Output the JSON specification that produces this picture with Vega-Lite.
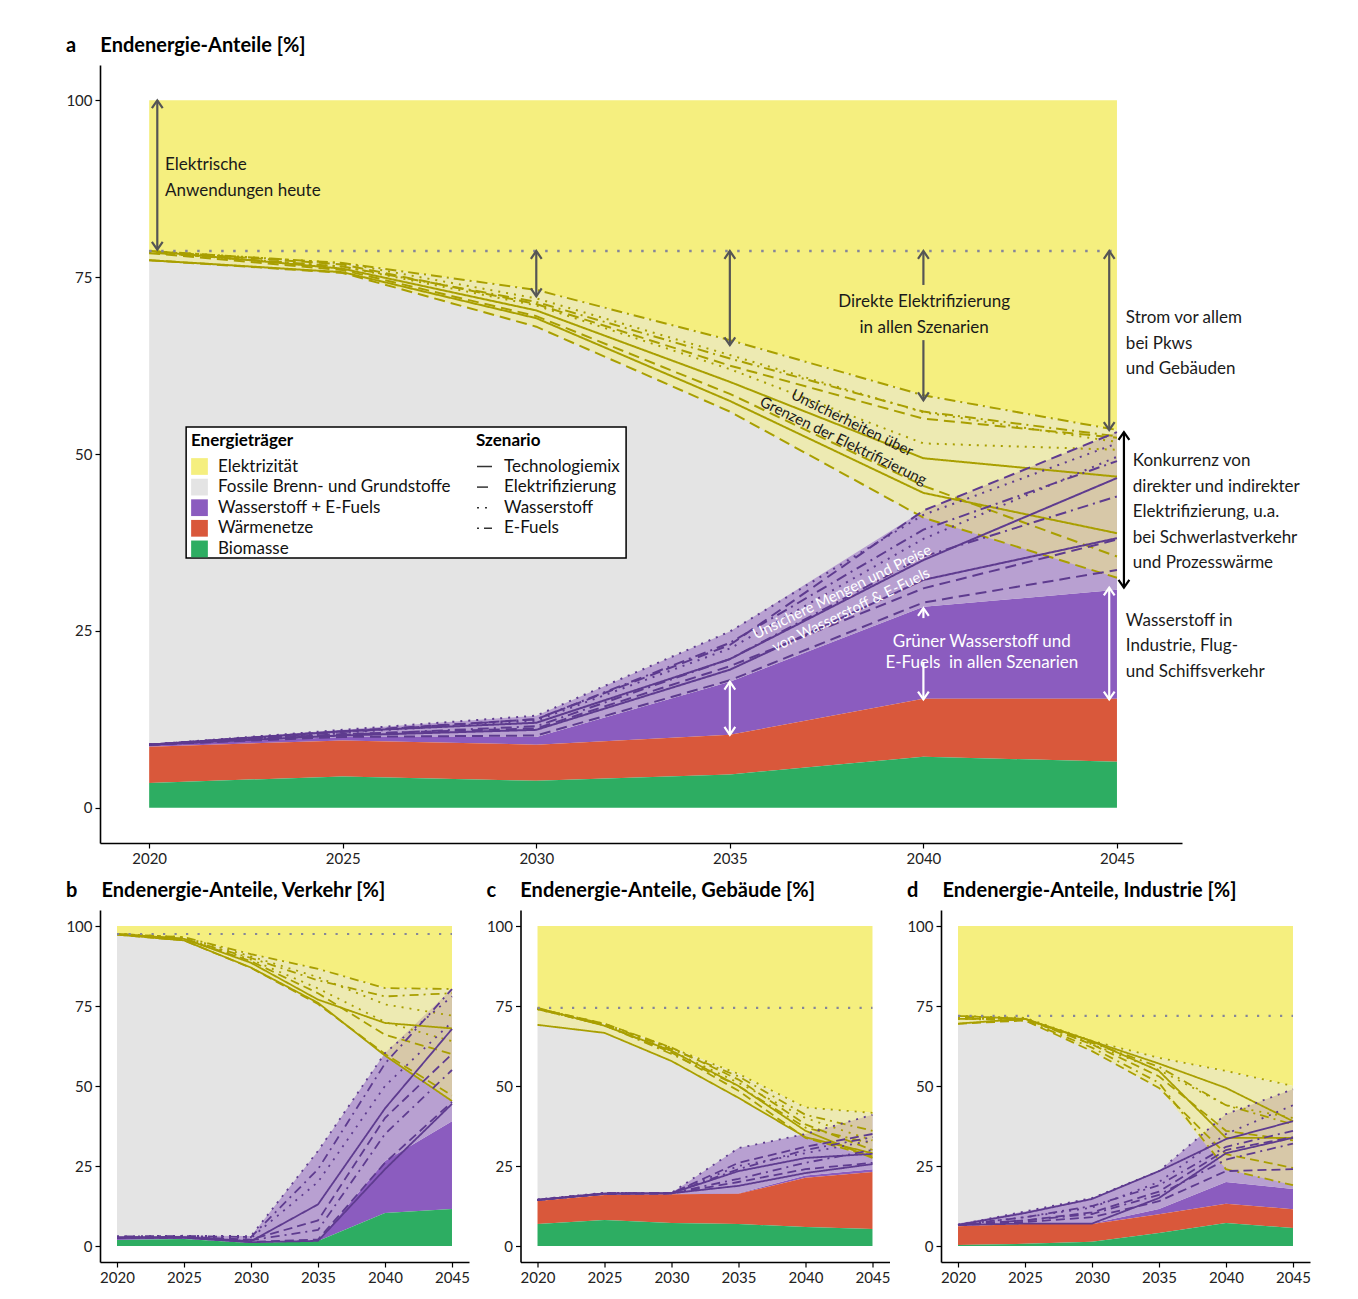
{
"$schema":"https://vega.github.io/schema/vega-lite/v6.json",
"background":"#ffffff",
"padding":{"left":65,"top":36,"right":10,"bottom":10},
"spacing":15,
"datasets":{
"sa":[{"t":2020,"u":100,"z":0,"b":3.5,"w":8.6,"h":8.9,"hx":9.0,"el":77.4,"ex":78.7},{"t":2025,"u":100,"z":0,"b":4.4,"w":9.5,"h":10.0,"hx":11.0,"el":75.6,"ex":77.0},{"t":2030,"u":100,"z":0,"b":3.8,"w":8.9,"h":10.0,"hx":13.0,"el":68.0,"ex":73.2},{"t":2035,"u":100,"z":0,"b":4.7,"w":10.3,"h":17.8,"hx":24.9,"el":56.0,"ex":66.1},{"t":2040,"u":100,"z":0,"b":7.2,"w":15.4,"h":28.4,"hx":42.0,"el":41.0,"ex":58.3},{"t":2045,"u":100,"z":0,"b":6.5,"w":15.4,"h":30.8,"hx":53.1,"el":32.5,"ex":53.4}],
"sb":[{"t":2020,"u":100,"z":0,"b":1.9,"w":1.9,"h":2.5,"hx":3.0,"el":97.3,"ex":97.5},{"t":2025,"u":100,"z":0,"b":2.2,"w":2.2,"h":2.6,"hx":3.2,"el":95.5,"ex":96.5},{"t":2030,"u":100,"z":0,"b":0.9,"w":0.9,"h":1.4,"hx":3.1,"el":86.9,"ex":91.2},{"t":2035,"u":100,"z":0,"b":1.6,"w":1.6,"h":1.6,"hx":29.7,"el":75.6,"ex":86.6},{"t":2040,"u":100,"z":0,"b":10.3,"w":10.3,"h":26.6,"hx":60.3,"el":59.5,"ex":80.6},{"t":2045,"u":100,"z":0,"b":11.6,"w":11.6,"h":39.0,"hx":80.3,"el":45.3,"ex":80.3}],
"sc":[{"t":2020,"u":100,"z":0,"b":6.9,"w":14.1,"h":14.4,"hx":14.6,"el":69.1,"ex":74.4},{"t":2025,"u":100,"z":0,"b":8.1,"w":15.9,"h":16.2,"hx":16.6,"el":66.6,"ex":69.5},{"t":2030,"u":100,"z":0,"b":7.2,"w":16.2,"h":16.4,"hx":16.6,"el":57.8,"ex":62.0},{"t":2035,"u":100,"z":0,"b":6.9,"w":16.3,"h":16.5,"hx":30.6,"el":46.3,"ex":53.8},{"t":2040,"u":100,"z":0,"b":5.9,"w":21.3,"h":22.0,"hx":35.0,"el":33.8,"ex":43.3},{"t":2045,"u":100,"z":0,"b":5.3,"w":23.1,"h":24.0,"hx":41.0,"el":27.5,"ex":41.6}],
"sd":[{"t":2020,"u":100,"z":0,"b":0.3,"w":6.2,"h":6.6,"hx":7.0,"el":69.4,"ex":71.9},{"t":2025,"u":100,"z":0,"b":0.7,"w":6.9,"h":6.9,"hx":10.8,"el":70.5,"ex":71.3},{"t":2030,"u":100,"z":0,"b":1.3,"w":6.9,"h":7.0,"hx":15.0,"el":60.9,"ex":64.1},{"t":2035,"u":100,"z":0,"b":4.1,"w":9.9,"h":11.6,"hx":23.4,"el":49.4,"ex":58.8},{"t":2040,"u":100,"z":0,"b":7.2,"w":13.2,"h":20.0,"hx":41.2,"el":24.0,"ex":54.7},{"t":2045,"u":100,"z":0,"b":5.6,"w":11.5,"h":17.8,"hx":49.0,"el":19.0,"ex":50.0}],
"la":[
{"k":"e","s":"T","m":1,"t":2020,"v":78.7},{"k":"e","s":"T","m":1,"t":2025,"v":76.2},{"k":"e","s":"T","m":1,"t":2030,"v":70.3},{"k":"e","s":"T","m":1,"t":2035,"v":60.2},{"k":"e","s":"T","m":1,"t":2040,"v":49.4},{"k":"e","s":"T","m":1,"t":2045,"v":46.8},
{"k":"e","s":"T","m":2,"t":2020,"v":77.4},{"k":"e","s":"T","m":2,"t":2025,"v":75.7},{"k":"e","s":"T","m":2,"t":2030,"v":69.2},{"k":"e","s":"T","m":2,"t":2035,"v":57.5},{"k":"e","s":"T","m":2,"t":2040,"v":44.5},{"k":"e","s":"T","m":2,"t":2045,"v":38.8},
{"k":"e","s":"E","m":1,"t":2020,"v":77.4},{"k":"e","s":"E","m":1,"t":2025,"v":75.6},{"k":"e","s":"E","m":1,"t":2030,"v":68.0},{"k":"e","s":"E","m":1,"t":2035,"v":56.0},{"k":"e","s":"E","m":1,"t":2040,"v":41.0},{"k":"e","s":"E","m":1,"t":2045,"v":32.5},
{"k":"e","s":"E","m":2,"t":2020,"v":78.4},{"k":"e","s":"E","m":2,"t":2025,"v":76.0},{"k":"e","s":"E","m":2,"t":2030,"v":69.5},{"k":"e","s":"E","m":2,"t":2035,"v":58.5},{"k":"e","s":"E","m":2,"t":2040,"v":45.5},{"k":"e","s":"E","m":2,"t":2045,"v":35.5},
{"k":"e","s":"E","m":3,"t":2020,"v":78.7},{"k":"e","s":"E","m":3,"t":2025,"v":76.8},{"k":"e","s":"E","m":3,"t":2030,"v":71.2},{"k":"e","s":"E","m":3,"t":2035,"v":62.5},{"k":"e","s":"E","m":3,"t":2040,"v":55.0},{"k":"e","s":"E","m":3,"t":2045,"v":52.3},
{"k":"e","s":"W","m":1,"t":2020,"v":78.7},{"k":"e","s":"W","m":1,"t":2025,"v":77.0},{"k":"e","s":"W","m":1,"t":2030,"v":72.0},{"k":"e","s":"W","m":1,"t":2035,"v":64.0},{"k":"e","s":"W","m":1,"t":2040,"v":55.9},{"k":"e","s":"W","m":1,"t":2045,"v":51.7},
{"k":"e","s":"W","m":2,"t":2020,"v":78.5},{"k":"e","s":"W","m":2,"t":2025,"v":76.5},{"k":"e","s":"W","m":2,"t":2030,"v":71.0},{"k":"e","s":"W","m":2,"t":2035,"v":62.0},{"k":"e","s":"W","m":2,"t":2040,"v":51.5},{"k":"e","s":"W","m":2,"t":2045,"v":50.6},
{"k":"e","s":"F","m":1,"t":2020,"v":78.7},{"k":"e","s":"F","m":1,"t":2025,"v":77.0},{"k":"e","s":"F","m":1,"t":2030,"v":73.2},{"k":"e","s":"F","m":1,"t":2035,"v":66.1},{"k":"e","s":"F","m":1,"t":2040,"v":58.3},{"k":"e","s":"F","m":1,"t":2045,"v":53.4},
{"k":"e","s":"F","m":2,"t":2020,"v":78.5},{"k":"e","s":"F","m":2,"t":2025,"v":76.5},{"k":"e","s":"F","m":2,"t":2030,"v":71.5},{"k":"e","s":"F","m":2,"t":2035,"v":63.5},{"k":"e","s":"F","m":2,"t":2040,"v":56.0},{"k":"e","s":"F","m":2,"t":2045,"v":52.5},
{"k":"h","s":"T","m":1,"t":2020,"v":8.9},{"k":"h","s":"T","m":1,"t":2025,"v":10.8},{"k":"h","s":"T","m":1,"t":2030,"v":12.0},{"k":"h","s":"T","m":1,"t":2035,"v":21.0},{"k":"h","s":"T","m":1,"t":2040,"v":35.0},{"k":"h","s":"T","m":1,"t":2045,"v":46.6},
{"k":"h","s":"T","m":2,"t":2020,"v":8.9},{"k":"h","s":"T","m":2,"t":2025,"v":10.2},{"k":"h","s":"T","m":2,"t":2030,"v":11.0},{"k":"h","s":"T","m":2,"t":2035,"v":19.5},{"k":"h","s":"T","m":2,"t":2040,"v":32.2},{"k":"h","s":"T","m":2,"t":2045,"v":38.1},
{"k":"h","s":"E","m":1,"t":2020,"v":8.9},{"k":"h","s":"E","m":1,"t":2025,"v":10.0},{"k":"h","s":"E","m":1,"t":2030,"v":10.2},{"k":"h","s":"E","m":1,"t":2035,"v":18.0},{"k":"h","s":"E","m":1,"t":2040,"v":29.0},{"k":"h","s":"E","m":1,"t":2045,"v":33.6},
{"k":"h","s":"E","m":2,"t":2020,"v":8.9},{"k":"h","s":"E","m":2,"t":2025,"v":10.4},{"k":"h","s":"E","m":2,"t":2030,"v":11.2},{"k":"h","s":"E","m":2,"t":2035,"v":20.0},{"k":"h","s":"E","m":2,"t":2040,"v":31.0},{"k":"h","s":"E","m":2,"t":2045,"v":37.9},
{"k":"h","s":"E","m":3,"t":2020,"v":8.9},{"k":"h","s":"E","m":3,"t":2025,"v":10.8},{"k":"h","s":"E","m":3,"t":2030,"v":12.5},{"k":"h","s":"E","m":3,"t":2035,"v":23.0},{"k":"h","s":"E","m":3,"t":2040,"v":42.0},{"k":"h","s":"E","m":3,"t":2045,"v":53.1},
{"k":"h","s":"W","m":1,"t":2020,"v":8.9},{"k":"h","s":"W","m":1,"t":2025,"v":11.0},{"k":"h","s":"W","m":1,"t":2030,"v":13.0},{"k":"h","s":"W","m":1,"t":2035,"v":24.9},{"k":"h","s":"W","m":1,"t":2040,"v":41.4},{"k":"h","s":"W","m":1,"t":2045,"v":51.5},
{"k":"h","s":"W","m":2,"t":2020,"v":8.9},{"k":"h","s":"W","m":2,"t":2025,"v":10.6},{"k":"h","s":"W","m":2,"t":2030,"v":12.3},{"k":"h","s":"W","m":2,"t":2035,"v":22.5},{"k":"h","s":"W","m":2,"t":2040,"v":38.0},{"k":"h","s":"W","m":2,"t":2045,"v":49.6},
{"k":"h","s":"F","m":1,"t":2020,"v":8.9},{"k":"h","s":"F","m":1,"t":2025,"v":10.7},{"k":"h","s":"F","m":1,"t":2030,"v":12.5},{"k":"h","s":"F","m":1,"t":2035,"v":23.3},{"k":"h","s":"F","m":1,"t":2040,"v":39.3},{"k":"h","s":"F","m":1,"t":2045,"v":49.0},
{"k":"h","s":"F","m":2,"t":2020,"v":8.9},{"k":"h","s":"F","m":2,"t":2025,"v":10.3},{"k":"h","s":"F","m":2,"t":2030,"v":11.5},{"k":"h","s":"F","m":2,"t":2035,"v":21.0},{"k":"h","s":"F","m":2,"t":2040,"v":35.5},{"k":"h","s":"F","m":2,"t":2045,"v":44.0}
],
"lb":[
{"k":"e","s":"T","m":1,"t":2020,"v":97.5},{"k":"e","s":"T","m":1,"t":2025,"v":96.0},{"k":"e","s":"T","m":1,"t":2030,"v":88.5},{"k":"e","s":"T","m":1,"t":2035,"v":77.0},{"k":"e","s":"T","m":1,"t":2040,"v":69.7},{"k":"e","s":"T","m":1,"t":2045,"v":68.0},
{"k":"e","s":"T","m":2,"t":2020,"v":97.3},{"k":"e","s":"T","m":2,"t":2025,"v":95.5},{"k":"e","s":"T","m":2,"t":2030,"v":87.0},{"k":"e","s":"T","m":2,"t":2035,"v":76.0},{"k":"e","s":"T","m":2,"t":2040,"v":59.5},{"k":"e","s":"T","m":2,"t":2045,"v":45.3},
{"k":"e","s":"E","m":1,"t":2020,"v":97.3},{"k":"e","s":"E","m":1,"t":2025,"v":95.5},{"k":"e","s":"E","m":1,"t":2030,"v":86.9},{"k":"e","s":"E","m":1,"t":2035,"v":75.6},{"k":"e","s":"E","m":1,"t":2040,"v":60.0},{"k":"e","s":"E","m":1,"t":2045,"v":47.0},
{"k":"e","s":"E","m":2,"t":2020,"v":97.5},{"k":"e","s":"E","m":2,"t":2025,"v":96.0},{"k":"e","s":"E","m":2,"t":2030,"v":89.0},{"k":"e","s":"E","m":2,"t":2035,"v":79.0},{"k":"e","s":"E","m":2,"t":2040,"v":66.0},{"k":"e","s":"E","m":2,"t":2045,"v":60.0},
{"k":"e","s":"W","m":1,"t":2020,"v":97.5},{"k":"e","s":"W","m":1,"t":2025,"v":96.5},{"k":"e","s":"W","m":1,"t":2030,"v":90.5},{"k":"e","s":"W","m":1,"t":2035,"v":84.0},{"k":"e","s":"W","m":1,"t":2040,"v":75.5},{"k":"e","s":"W","m":1,"t":2045,"v":72.0},
{"k":"e","s":"W","m":2,"t":2020,"v":97.5},{"k":"e","s":"W","m":2,"t":2025,"v":96.0},{"k":"e","s":"W","m":2,"t":2030,"v":89.5},{"k":"e","s":"W","m":2,"t":2035,"v":80.5},{"k":"e","s":"W","m":2,"t":2040,"v":70.0},{"k":"e","s":"W","m":2,"t":2045,"v":64.0},
{"k":"e","s":"F","m":1,"t":2020,"v":97.5},{"k":"e","s":"F","m":1,"t":2025,"v":96.5},{"k":"e","s":"F","m":1,"t":2030,"v":91.2},{"k":"e","s":"F","m":1,"t":2035,"v":86.6},{"k":"e","s":"F","m":1,"t":2040,"v":80.6},{"k":"e","s":"F","m":1,"t":2045,"v":80.3},
{"k":"e","s":"F","m":2,"t":2020,"v":97.5},{"k":"e","s":"F","m":2,"t":2025,"v":96.0},{"k":"e","s":"F","m":2,"t":2030,"v":90.0},{"k":"e","s":"F","m":2,"t":2035,"v":83.0},{"k":"e","s":"F","m":2,"t":2040,"v":78.0},{"k":"e","s":"F","m":2,"t":2045,"v":79.0},
{"k":"h","s":"T","m":1,"t":2020,"v":2.7},{"k":"h","s":"T","m":1,"t":2025,"v":2.8},{"k":"h","s":"T","m":1,"t":2030,"v":1.5},{"k":"h","s":"T","m":1,"t":2035,"v":13.0},{"k":"h","s":"T","m":1,"t":2040,"v":43.0},{"k":"h","s":"T","m":1,"t":2045,"v":67.8},
{"k":"h","s":"T","m":2,"t":2020,"v":2.5},{"k":"h","s":"T","m":2,"t":2025,"v":2.6},{"k":"h","s":"T","m":2,"t":2030,"v":1.2},{"k":"h","s":"T","m":2,"t":2035,"v":1.6},{"k":"h","s":"T","m":2,"t":2040,"v":24.0},{"k":"h","s":"T","m":2,"t":2045,"v":44.4},
{"k":"h","s":"E","m":1,"t":2020,"v":2.5},{"k":"h","s":"E","m":1,"t":2025,"v":2.6},{"k":"h","s":"E","m":1,"t":2030,"v":1.3},{"k":"h","s":"E","m":1,"t":2035,"v":2.0},{"k":"h","s":"E","m":1,"t":2040,"v":26.0},{"k":"h","s":"E","m":1,"t":2045,"v":45.0},
{"k":"h","s":"E","m":2,"t":2020,"v":2.7},{"k":"h","s":"E","m":2,"t":2025,"v":2.8},{"k":"h","s":"E","m":2,"t":2030,"v":2.0},{"k":"h","s":"E","m":2,"t":2035,"v":8.0},{"k":"h","s":"E","m":2,"t":2040,"v":40.0},{"k":"h","s":"E","m":2,"t":2045,"v":60.0},
{"k":"h","s":"W","m":1,"t":2020,"v":3.0},{"k":"h","s":"W","m":1,"t":2025,"v":3.2},{"k":"h","s":"W","m":1,"t":2030,"v":3.1},{"k":"h","s":"W","m":1,"t":2035,"v":29.7},{"k":"h","s":"W","m":1,"t":2040,"v":60.3},{"k":"h","s":"W","m":1,"t":2045,"v":78.0},
{"k":"h","s":"W","m":2,"t":2020,"v":2.7},{"k":"h","s":"W","m":2,"t":2025,"v":3.0},{"k":"h","s":"W","m":2,"t":2030,"v":2.5},{"k":"h","s":"W","m":2,"t":2035,"v":20.0},{"k":"h","s":"W","m":2,"t":2040,"v":50.0},{"k":"h","s":"W","m":2,"t":2045,"v":70.0},
{"k":"h","s":"F","m":1,"t":2020,"v":3.0},{"k":"h","s":"F","m":1,"t":2025,"v":3.1},{"k":"h","s":"F","m":1,"t":2030,"v":2.8},{"k":"h","s":"F","m":1,"t":2035,"v":24.0},{"k":"h","s":"F","m":1,"t":2040,"v":57.0},{"k":"h","s":"F","m":1,"t":2045,"v":80.3},
{"k":"h","s":"F","m":2,"t":2020,"v":2.6},{"k":"h","s":"F","m":2,"t":2025,"v":2.8},{"k":"h","s":"F","m":2,"t":2030,"v":1.8},{"k":"h","s":"F","m":2,"t":2035,"v":5.0},{"k":"h","s":"F","m":2,"t":2040,"v":35.0},{"k":"h","s":"F","m":2,"t":2045,"v":55.0}
],
"lc":[
{"k":"e","s":"T","m":1,"t":2020,"v":74.4},{"k":"e","s":"T","m":1,"t":2025,"v":68.8},{"k":"e","s":"T","m":1,"t":2030,"v":61.0},{"k":"e","s":"T","m":1,"t":2035,"v":50.0},{"k":"e","s":"T","m":1,"t":2040,"v":36.0},{"k":"e","s":"T","m":1,"t":2045,"v":27.5},
{"k":"e","s":"T","m":2,"t":2020,"v":69.1},{"k":"e","s":"T","m":2,"t":2025,"v":66.6},{"k":"e","s":"T","m":2,"t":2030,"v":57.8},{"k":"e","s":"T","m":2,"t":2035,"v":46.3},{"k":"e","s":"T","m":2,"t":2040,"v":34.0},{"k":"e","s":"T","m":2,"t":2045,"v":29.0},
{"k":"e","s":"E","m":1,"t":2020,"v":74.0},{"k":"e","s":"E","m":1,"t":2025,"v":69.0},{"k":"e","s":"E","m":1,"t":2030,"v":60.5},{"k":"e","s":"E","m":1,"t":2035,"v":48.5},{"k":"e","s":"E","m":1,"t":2040,"v":33.8},{"k":"e","s":"E","m":1,"t":2045,"v":28.0},
{"k":"e","s":"E","m":2,"t":2020,"v":74.2},{"k":"e","s":"E","m":2,"t":2025,"v":69.5},{"k":"e","s":"E","m":2,"t":2030,"v":62.0},{"k":"e","s":"E","m":2,"t":2035,"v":52.0},{"k":"e","s":"E","m":2,"t":2040,"v":38.0},{"k":"e","s":"E","m":2,"t":2045,"v":30.0},
{"k":"e","s":"W","m":1,"t":2020,"v":74.2},{"k":"e","s":"W","m":1,"t":2025,"v":69.4},{"k":"e","s":"W","m":1,"t":2030,"v":61.9},{"k":"e","s":"W","m":1,"t":2035,"v":53.8},{"k":"e","s":"W","m":1,"t":2040,"v":43.3},{"k":"e","s":"W","m":1,"t":2045,"v":41.6},
{"k":"e","s":"W","m":2,"t":2020,"v":74.0},{"k":"e","s":"W","m":2,"t":2025,"v":69.0},{"k":"e","s":"W","m":2,"t":2030,"v":61.0},{"k":"e","s":"W","m":2,"t":2035,"v":51.0},{"k":"e","s":"W","m":2,"t":2040,"v":40.0},{"k":"e","s":"W","m":2,"t":2045,"v":33.0},
{"k":"e","s":"F","m":1,"t":2020,"v":74.2},{"k":"e","s":"F","m":1,"t":2025,"v":69.4},{"k":"e","s":"F","m":1,"t":2030,"v":61.5},{"k":"e","s":"F","m":1,"t":2035,"v":53.0},{"k":"e","s":"F","m":1,"t":2040,"v":41.0},{"k":"e","s":"F","m":1,"t":2045,"v":36.0},
{"k":"e","s":"F","m":2,"t":2020,"v":74.0},{"k":"e","s":"F","m":2,"t":2025,"v":69.0},{"k":"e","s":"F","m":2,"t":2030,"v":60.0},{"k":"e","s":"F","m":2,"t":2035,"v":50.0},{"k":"e","s":"F","m":2,"t":2040,"v":37.0},{"k":"e","s":"F","m":2,"t":2045,"v":32.0},
{"k":"h","s":"T","m":1,"t":2020,"v":14.4},{"k":"h","s":"T","m":1,"t":2025,"v":16.4},{"k":"h","s":"T","m":1,"t":2030,"v":16.5},{"k":"h","s":"T","m":1,"t":2035,"v":23.4},{"k":"h","s":"T","m":1,"t":2040,"v":27.5},{"k":"h","s":"T","m":1,"t":2045,"v":28.8},
{"k":"h","s":"T","m":2,"t":2020,"v":14.4},{"k":"h","s":"T","m":2,"t":2025,"v":16.3},{"k":"h","s":"T","m":2,"t":2030,"v":16.5},{"k":"h","s":"T","m":2,"t":2035,"v":18.8},{"k":"h","s":"T","m":2,"t":2040,"v":22.8},{"k":"h","s":"T","m":2,"t":2045,"v":25.6},
{"k":"h","s":"E","m":1,"t":2020,"v":14.4},{"k":"h","s":"E","m":1,"t":2025,"v":16.3},{"k":"h","s":"E","m":1,"t":2030,"v":16.4},{"k":"h","s":"E","m":1,"t":2035,"v":20.0},{"k":"h","s":"E","m":1,"t":2040,"v":24.0},{"k":"h","s":"E","m":1,"t":2045,"v":26.0},
{"k":"h","s":"E","m":2,"t":2020,"v":14.4},{"k":"h","s":"E","m":2,"t":2025,"v":16.4},{"k":"h","s":"E","m":2,"t":2030,"v":16.5},{"k":"h","s":"E","m":2,"t":2035,"v":26.0},{"k":"h","s":"E","m":2,"t":2040,"v":31.0},{"k":"h","s":"E","m":2,"t":2045,"v":35.0},
{"k":"h","s":"W","m":1,"t":2020,"v":14.6},{"k":"h","s":"W","m":1,"t":2025,"v":16.6},{"k":"h","s":"W","m":1,"t":2030,"v":16.6},{"k":"h","s":"W","m":1,"t":2035,"v":30.6},{"k":"h","s":"W","m":1,"t":2040,"v":35.0},{"k":"h","s":"W","m":1,"t":2045,"v":41.0},
{"k":"h","s":"W","m":2,"t":2020,"v":14.4},{"k":"h","s":"W","m":2,"t":2025,"v":16.5},{"k":"h","s":"W","m":2,"t":2030,"v":16.6},{"k":"h","s":"W","m":2,"t":2035,"v":25.0},{"k":"h","s":"W","m":2,"t":2040,"v":29.0},{"k":"h","s":"W","m":2,"t":2045,"v":33.0},
{"k":"h","s":"F","m":1,"t":2020,"v":14.4},{"k":"h","s":"F","m":1,"t":2025,"v":16.5},{"k":"h","s":"F","m":1,"t":2030,"v":16.5},{"k":"h","s":"F","m":1,"t":2035,"v":24.0},{"k":"h","s":"F","m":1,"t":2040,"v":30.0},{"k":"h","s":"F","m":1,"t":2045,"v":34.0},
{"k":"h","s":"F","m":2,"t":2020,"v":14.4},{"k":"h","s":"F","m":2,"t":2025,"v":16.4},{"k":"h","s":"F","m":2,"t":2030,"v":16.5},{"k":"h","s":"F","m":2,"t":2035,"v":21.0},{"k":"h","s":"F","m":2,"t":2040,"v":26.0},{"k":"h","s":"F","m":2,"t":2045,"v":30.0}
],
"ld":[
{"k":"e","s":"T","m":1,"t":2020,"v":71.9},{"k":"e","s":"T","m":1,"t":2025,"v":71.0},{"k":"e","s":"T","m":1,"t":2030,"v":64.0},{"k":"e","s":"T","m":1,"t":2035,"v":57.0},{"k":"e","s":"T","m":1,"t":2040,"v":49.4},{"k":"e","s":"T","m":1,"t":2045,"v":39.0},
{"k":"e","s":"T","m":2,"t":2020,"v":69.5},{"k":"e","s":"T","m":2,"t":2025,"v":71.0},{"k":"e","s":"T","m":2,"t":2030,"v":64.0},{"k":"e","s":"T","m":2,"t":2035,"v":54.7},{"k":"e","s":"T","m":2,"t":2040,"v":33.8},{"k":"e","s":"T","m":2,"t":2045,"v":33.8},
{"k":"e","s":"E","m":1,"t":2020,"v":69.4},{"k":"e","s":"E","m":1,"t":2025,"v":70.5},{"k":"e","s":"E","m":1,"t":2030,"v":60.9},{"k":"e","s":"E","m":1,"t":2035,"v":49.4},{"k":"e","s":"E","m":1,"t":2040,"v":28.7},{"k":"e","s":"E","m":1,"t":2045,"v":24.4},
{"k":"e","s":"E","m":2,"t":2020,"v":71.0},{"k":"e","s":"E","m":2,"t":2025,"v":71.0},{"k":"e","s":"E","m":2,"t":2030,"v":63.0},{"k":"e","s":"E","m":2,"t":2035,"v":53.0},{"k":"e","s":"E","m":2,"t":2040,"v":36.0},{"k":"e","s":"E","m":2,"t":2045,"v":33.0},
{"k":"e","s":"W","m":1,"t":2020,"v":71.9},{"k":"e","s":"W","m":1,"t":2025,"v":71.3},{"k":"e","s":"W","m":1,"t":2030,"v":64.1},{"k":"e","s":"W","m":1,"t":2035,"v":58.8},{"k":"e","s":"W","m":1,"t":2040,"v":54.7},{"k":"e","s":"W","m":1,"t":2045,"v":50.0},
{"k":"e","s":"W","m":2,"t":2020,"v":71.0},{"k":"e","s":"W","m":2,"t":2025,"v":71.0},{"k":"e","s":"W","m":2,"t":2030,"v":63.0},{"k":"e","s":"W","m":2,"t":2035,"v":55.0},{"k":"e","s":"W","m":2,"t":2040,"v":44.0},{"k":"e","s":"W","m":2,"t":2045,"v":40.0},
{"k":"e","s":"F","m":1,"t":2020,"v":71.5},{"k":"e","s":"F","m":1,"t":2025,"v":71.0},{"k":"e","s":"F","m":1,"t":2030,"v":63.5},{"k":"e","s":"F","m":1,"t":2035,"v":56.0},{"k":"e","s":"F","m":1,"t":2040,"v":44.0},{"k":"e","s":"F","m":1,"t":2045,"v":38.0},
{"k":"e","s":"F","m":2,"t":2020,"v":71.0},{"k":"e","s":"F","m":2,"t":2025,"v":70.5},{"k":"e","s":"F","m":2,"t":2030,"v":62.0},{"k":"e","s":"F","m":2,"t":2035,"v":51.0},{"k":"e","s":"F","m":2,"t":2040,"v":24.0},{"k":"e","s":"F","m":2,"t":2045,"v":19.0},
{"k":"h","s":"T","m":1,"t":2020,"v":6.6},{"k":"h","s":"T","m":1,"t":2025,"v":10.3},{"k":"h","s":"T","m":1,"t":2030,"v":14.7},{"k":"h","s":"T","m":1,"t":2035,"v":23.4},{"k":"h","s":"T","m":1,"t":2040,"v":33.4},{"k":"h","s":"T","m":1,"t":2045,"v":39.0},
{"k":"h","s":"T","m":2,"t":2020,"v":6.6},{"k":"h","s":"T","m":2,"t":2025,"v":7.0},{"k":"h","s":"T","m":2,"t":2030,"v":7.0},{"k":"h","s":"T","m":2,"t":2035,"v":15.0},{"k":"h","s":"T","m":2,"t":2040,"v":29.0},{"k":"h","s":"T","m":2,"t":2045,"v":33.8},
{"k":"h","s":"E","m":1,"t":2020,"v":6.6},{"k":"h","s":"E","m":1,"t":2025,"v":7.5},{"k":"h","s":"E","m":1,"t":2030,"v":9.0},{"k":"h","s":"E","m":1,"t":2035,"v":14.0},{"k":"h","s":"E","m":1,"t":2040,"v":23.4},{"k":"h","s":"E","m":1,"t":2045,"v":24.0},
{"k":"h","s":"E","m":2,"t":2020,"v":6.6},{"k":"h","s":"E","m":2,"t":2025,"v":8.0},{"k":"h","s":"E","m":2,"t":2030,"v":10.5},{"k":"h","s":"E","m":2,"t":2035,"v":17.0},{"k":"h","s":"E","m":2,"t":2040,"v":30.0},{"k":"h","s":"E","m":2,"t":2045,"v":34.0},
{"k":"h","s":"W","m":1,"t":2020,"v":6.6},{"k":"h","s":"W","m":1,"t":2025,"v":10.8},{"k":"h","s":"W","m":1,"t":2030,"v":15.0},{"k":"h","s":"W","m":1,"t":2035,"v":23.4},{"k":"h","s":"W","m":1,"t":2040,"v":41.2},{"k":"h","s":"W","m":1,"t":2045,"v":49.0},
{"k":"h","s":"W","m":2,"t":2020,"v":6.6},{"k":"h","s":"W","m":2,"t":2025,"v":9.0},{"k":"h","s":"W","m":2,"t":2030,"v":12.0},{"k":"h","s":"W","m":2,"t":2035,"v":20.0},{"k":"h","s":"W","m":2,"t":2040,"v":35.0},{"k":"h","s":"W","m":2,"t":2045,"v":44.0},
{"k":"h","s":"F","m":1,"t":2020,"v":6.6},{"k":"h","s":"F","m":1,"t":2025,"v":9.0},{"k":"h","s":"F","m":1,"t":2030,"v":12.5},{"k":"h","s":"F","m":1,"t":2035,"v":19.0},{"k":"h","s":"F","m":1,"t":2040,"v":31.0},{"k":"h","s":"F","m":1,"t":2045,"v":36.0},
{"k":"h","s":"F","m":2,"t":2020,"v":6.6},{"k":"h","s":"F","m":2,"t":2025,"v":8.0},{"k":"h","s":"F","m":2,"t":2030,"v":10.0},{"k":"h","s":"F","m":2,"t":2035,"v":16.0},{"k":"h","s":"F","m":2,"t":2040,"v":27.0},{"k":"h","s":"F","m":2,"t":2045,"v":32.0}
]
},
"vconcat":[
{
"width":1082,"height":778,
"title":{"text":"a\u00a0\u00a0\u00a0\u00a0\u00a0Endenergie-Anteile [%]"},
"encoding":{"x":{"field":"t","type":"quantitative","title":null,"scale":{"domain":[2018.73,2046.68],"nice":false,"zero":false},"axis":{"values":[2020,2025,2030,2035,2040,2045],"format":"d"}}},
"layer":[
{"data":{"name":"sa"},"mark":{"type":"area"},"encoding":{"y":{"field":"u","type":"quantitative","title":null,"scale":{"domain":[-5,105],"nice":false,"zero":false},"axis":{"values":[0,25,50,75,100],"title":null}},"y2":{"field":"ex"},"fill":{"datum":"Elektrizität","type":"nominal","scale":{"domain":["Elektrizität","Fossile Brenn- und Grundstoffe","Wasserstoff + E-Fuels","Wärmenetze","Biomasse"],"range":["#f5ef7f","#e4e4e4","#8b5cbf","#d9583b","#2dad62"]},"legend":{"title":"Energieträger","orient":"none","legendX":91,"legendY":368,"symbolType":"square","symbolSize":280,"symbolStrokeWidth":0,"labelOffset":10}}}},
{"data":{"name":"sa"},"mark":{"type":"area"},"encoding":{"y":{"field":"ex","type":"quantitative","title":null},"y2":{"field":"h"},"fill":{"datum":"Fossile Brenn- und Grundstoffe","type":"nominal"}}},
{"data":{"name":"sa"},"mark":{"type":"area"},"encoding":{"y":{"field":"h","type":"quantitative","title":null},"y2":{"field":"w"},"fill":{"datum":"Wasserstoff + E-Fuels","type":"nominal"}}},
{"data":{"name":"sa"},"mark":{"type":"area"},"encoding":{"y":{"field":"w","type":"quantitative","title":null},"y2":{"field":"b"},"fill":{"datum":"Wärmenetze","type":"nominal"}}},
{"data":{"name":"sa"},"mark":{"type":"area"},"encoding":{"y":{"field":"b","type":"quantitative","title":null},"y2":{"field":"z"},"fill":{"datum":"Biomasse","type":"nominal"}}},
{"data":{"name":"sa"},"mark":{"type":"area","fill":"#b8a0d1"},"encoding":{"y":{"field":"hx","type":"quantitative","title":null},"y2":{"field":"h"}}},
{"data":{"name":"sa"},"mark":{"type":"area","fill":"#f5ef7f","fillOpacity":0.5},"encoding":{"y":{"field":"ex","type":"quantitative","title":null},"y2":{"field":"el"}}},
{"data":{"name":"la"},"mark":{"type":"line","strokeWidth":2,"strokeCap":"butt"},"encoding":{"y":{"field":"v","type":"quantitative","title":null},"stroke":{"field":"k","type":"nominal","scale":{"domain":["e","h"],"range":["#a99f00","#5e3b8f"]},"legend":null},"strokeDash":{"field":"s","type":"nominal","scale":{"domain":["T","E","W","F"],"range":[[1,0],[11,6],[2,6],[2,5,11,5]]},"legend":{"title":"Szenario","orient":"none","legendX":376,"legendY":368,"symbolType":"stroke","symbolSize":225,"symbolStrokeColor":"#333333","symbolStrokeWidth":1.5,"labelOffset":11,"labelExpr":"datum.label == 'T' ? 'Technologiemix' : datum.label == 'E' ? 'Elektrifizierung' : datum.label == 'W' ? 'Wasserstoff' : 'E-Fuels'"}},"detail":{"field":"m","type":"nominal"}}},
{"data":{"values":[{"t":2020,"t2":2045,"v":78.7}]},"mark":{"type":"rule","color":"#85859a","strokeWidth":2.5,"strokeDash":[2.5,9.5]},"encoding":{"x":{"field":"t","type":"quantitative"},"x2":{"field":"t2"},"y":{"field":"v","type":"quantitative","title":null}}},
{"data":{"values":[{"t":2020.955,"t2":2032.32,"v":53.8,"v2":35.3}]},"mark":{"type":"rect","fill":"#ffffff","stroke":"#000000","strokeWidth":1.5},"encoding":{"x":{"field":"t","type":"quantitative"},"x2":{"field":"t2"},"y":{"field":"v","type":"quantitative","title":null},"y2":{"field":"v2"}}},
{"data":{"values":[{"t":2020.21,"a":78.9,"b":100},{"t":2030,"a":72.3,"b":78.7},{"t":2035,"a":65.4,"b":78.7},{"t":2040,"a":73.9,"b":78.7},{"t":2040,"a":57.6,"b":66.1},{"t":2044.8,"a":53.4,"b":78.7}]},"mark":{"type":"rule","color":"#555555","strokeWidth":2.2},"encoding":{"x":{"field":"t","type":"quantitative"},"y":{"field":"a","type":"quantitative","title":null},"y2":{"field":"b"}}},
{"data":{"values":[{"t":2020.21,"v":100,"d":"up"},{"t":2020.21,"v":78.9,"d":"dn"},{"t":2030,"v":78.7,"d":"up"},{"t":2030,"v":72.3,"d":"dn"},{"t":2035,"v":78.7,"d":"up"},{"t":2035,"v":65.4,"d":"dn"},{"t":2040,"v":78.7,"d":"up"},{"t":2040,"v":57.6,"d":"dn"},{"t":2044.8,"v":78.7,"d":"up"},{"t":2044.8,"v":53.4,"d":"dn"}]},"mark":{"type":"point","filled":false,"color":"#555555","strokeWidth":2.2,"size":144,"opacity":1},"encoding":{"x":{"field":"t","type":"quantitative"},"y":{"field":"v","type":"quantitative","title":null},"shape":{"field":"d","type":"nominal","scale":{"domain":["up","dn"],"range":["M-0.9,1.3L0,0L0.9,1.3","M-0.9,-1.3L0,0L0.9,-1.3"]},"legend":null}}},
{"data":{"values":[{"t":2045.18,"a":31.1,"b":53.1}]},"mark":{"type":"rule","color":"#000000","strokeWidth":2.2},"encoding":{"x":{"field":"t","type":"quantitative"},"y":{"field":"a","type":"quantitative","title":null},"y2":{"field":"b"}}},
{"data":{"values":[{"t":2045.18,"v":53.1,"d":"up"},{"t":2045.18,"v":31.1,"d":"dn"}]},"mark":{"type":"point","filled":false,"color":"#000000","strokeWidth":2.2,"size":144,"opacity":1},"encoding":{"x":{"field":"t","type":"quantitative"},"y":{"field":"v","type":"quantitative","title":null},"shape":{"field":"d","type":"nominal","legend":null}}},
{"data":{"values":[{"t":2035,"a":10.3,"b":17.8},{"t":2040,"a":26.8,"b":28.2},{"t":2040,"a":15.3,"b":20.6},{"t":2044.8,"a":15.3,"b":31.1}]},"mark":{"type":"rule","color":"#ffffff","strokeWidth":2.2},"encoding":{"x":{"field":"t","type":"quantitative"},"y":{"field":"a","type":"quantitative","title":null},"y2":{"field":"b"}}},
{"data":{"values":[{"t":2035,"v":17.8,"d":"up"},{"t":2035,"v":10.3,"d":"dn"},{"t":2040,"v":28.2,"d":"up"},{"t":2040,"v":15.3,"d":"dn"},{"t":2044.8,"v":31.1,"d":"up"},{"t":2044.8,"v":15.3,"d":"dn"}]},"mark":{"type":"point","filled":false,"color":"#ffffff","strokeWidth":2.2,"size":144,"opacity":1},"encoding":{"x":{"field":"t","type":"quantitative"},"y":{"field":"v","type":"quantitative","title":null},"shape":{"field":"d","type":"nominal","legend":null}}},
{"data":{"values":[{"t":2020.41,"v":90.8,"txt":"Elektrische\nAnwendungen heute"},{"t":2045.23,"v":69.2,"txt":"Strom vor allem\nbei Pkws\nund Gebäuden"},{"t":2045.41,"v":49.0,"txt":"Konkurrenz von\ndirekter und indirekter\nElektrifizierung, u.a.\nbei Schwerlastverkehr\nund Prozesswärme"},{"t":2045.23,"v":26.4,"txt":"Wasserstoff in\nIndustrie, Flug-\nund Schiffsverkehr"}]},"mark":{"type":"text","align":"left","baseline":"middle","fontSize":17,"lineHeight":25.5,"lineBreak":"\n","color":"#1a1a1a"},"encoding":{"x":{"field":"t","type":"quantitative"},"y":{"field":"v","type":"quantitative","title":null},"text":{"field":"txt"}}},
{"data":{"values":[{"t":2040.02,"v":71.5,"txt":"Direkte Elektrifizierung\nin allen Szenarien"}]},"mark":{"type":"text","align":"center","baseline":"middle","fontSize":17,"lineHeight":26,"lineBreak":"\n","color":"#1a1a1a"},"encoding":{"x":{"field":"t","type":"quantitative"},"y":{"field":"v","type":"quantitative","title":null},"text":{"field":"txt"}}},
{"data":{"values":[{"t":2038.16,"v":54.4,"txt":"Unsicherheiten über\nGrenzen der Elektrifizierung"}]},"mark":{"type":"text","align":"center","baseline":"middle","fontSize":15,"lineHeight":20,"lineBreak":"\n","angle":26,"color":"#1a1a1a"},"encoding":{"x":{"field":"t","type":"quantitative"},"y":{"field":"v","type":"quantitative","title":null},"text":{"field":"txt"}}},
{"data":{"values":[{"t":2037.9,"v":30.5,"txt":"Unsichere Mengen und Preise\nvon Wasserstoff & E-Fuels"}]},"mark":{"type":"text","align":"center","baseline":"middle","fontSize":15,"lineHeight":20,"lineBreak":"\n","angle":334,"color":"#ffffff"},"encoding":{"x":{"field":"t","type":"quantitative"},"y":{"field":"v","type":"quantitative","title":null},"text":{"field":"txt"}}},
{"data":{"values":[{"t":2041.51,"v":23.45,"txt":"Grüner Wasserstoff und\nE-Fuels\u00a0\u00a0in allen Szenarien"}]},"mark":{"type":"text","align":"center","baseline":"middle","fontSize":17,"lineHeight":21,"lineBreak":"\n","color":"#ffffff"},"encoding":{"x":{"field":"t","type":"quantitative"},"y":{"field":"v","type":"quantitative","title":null},"text":{"field":"txt"}}}
]
},
{"hconcat":[
{
"width":369,"height":352,
"title":{"text":"b\u00a0\u00a0\u00a0\u00a0\u00a0Endenergie-Anteile, Verkehr [%]"},
"encoding":{"x":{"field":"t","type":"quantitative","title":null,"scale":{"domain":[2018.73,2046.27],"nice":false,"zero":false},"axis":{"values":[2020,2025,2030,2035,2040,2045],"format":"d"}}},
"layer":[
{"data":{"name":"sb"},"mark":{"type":"area"},"encoding":{"y":{"field":"u","type":"quantitative","title":null,"scale":{"domain":[-5,105],"nice":false,"zero":false},"axis":{"values":[0,25,50,75,100],"title":null}},"y2":{"field":"ex"},"fill":{"datum":"Elektrizität","type":"nominal","scale":{"domain":["Elektrizität","Fossile Brenn- und Grundstoffe","Wasserstoff + E-Fuels","Wärmenetze","Biomasse"],"range":["#f5ef7f","#e4e4e4","#8b5cbf","#d9583b","#2dad62"]},"legend":null}}},
{"data":{"name":"sb"},"mark":{"type":"area"},"encoding":{"y":{"field":"ex","type":"quantitative","title":null},"y2":{"field":"h"},"fill":{"datum":"Fossile Brenn- und Grundstoffe","type":"nominal","legend":null}}},
{"data":{"name":"sb"},"mark":{"type":"area"},"encoding":{"y":{"field":"h","type":"quantitative","title":null},"y2":{"field":"w"},"fill":{"datum":"Wasserstoff + E-Fuels","type":"nominal","legend":null}}},
{"data":{"name":"sb"},"mark":{"type":"area"},"encoding":{"y":{"field":"w","type":"quantitative","title":null},"y2":{"field":"b"},"fill":{"datum":"Wärmenetze","type":"nominal","legend":null}}},
{"data":{"name":"sb"},"mark":{"type":"area"},"encoding":{"y":{"field":"b","type":"quantitative","title":null},"y2":{"field":"z"},"fill":{"datum":"Biomasse","type":"nominal","legend":null}}},
{"data":{"name":"sb"},"mark":{"type":"area","fill":"#b8a0d1"},"encoding":{"y":{"field":"hx","type":"quantitative","title":null},"y2":{"field":"h"}}},
{"data":{"name":"sb"},"mark":{"type":"area","fill":"#f5ef7f","fillOpacity":0.5},"encoding":{"y":{"field":"ex","type":"quantitative","title":null},"y2":{"field":"el"}}},
{"data":{"name":"lb"},"mark":{"type":"line","strokeWidth":1.8,"strokeCap":"butt"},"encoding":{"y":{"field":"v","type":"quantitative","title":null},"stroke":{"field":"k","type":"nominal","scale":{"domain":["e","h"],"range":["#a99f00","#5e3b8f"]},"legend":null},"strokeDash":{"field":"s","type":"nominal","scale":{"domain":["T","E","W","F"],"range":[[1,0],[9,5],[2,6],[2,5,9,5]]},"legend":null},"detail":{"field":"m","type":"nominal"}}},
{"data":{"values":[{"t":2020,"t2":2045,"v":97.5}]},"mark":{"type":"rule","color":"#85859a","strokeWidth":2.2,"strokeDash":[2.2,9.3]},"encoding":{"x":{"field":"t","type":"quantitative"},"x2":{"field":"t2"},"y":{"field":"v","type":"quantitative","title":null}}}
]
},
{
"width":369,"height":352,
"title":{"text":"c\u00a0\u00a0\u00a0\u00a0\u00a0Endenergie-Anteile, Gebäude [%]"},
"encoding":{"x":{"field":"t","type":"quantitative","title":null,"scale":{"domain":[2018.73,2046.27],"nice":false,"zero":false},"axis":{"values":[2020,2025,2030,2035,2040,2045],"format":"d"}}},
"layer":[
{"data":{"name":"sc"},"mark":{"type":"area"},"encoding":{"y":{"field":"u","type":"quantitative","title":null,"scale":{"domain":[-5,105],"nice":false,"zero":false},"axis":{"values":[0,25,50,75,100],"title":null}},"y2":{"field":"ex"},"fill":{"datum":"Elektrizität","type":"nominal","scale":{"domain":["Elektrizität","Fossile Brenn- und Grundstoffe","Wasserstoff + E-Fuels","Wärmenetze","Biomasse"],"range":["#f5ef7f","#e4e4e4","#8b5cbf","#d9583b","#2dad62"]},"legend":null}}},
{"data":{"name":"sc"},"mark":{"type":"area"},"encoding":{"y":{"field":"ex","type":"quantitative","title":null},"y2":{"field":"h"},"fill":{"datum":"Fossile Brenn- und Grundstoffe","type":"nominal","legend":null}}},
{"data":{"name":"sc"},"mark":{"type":"area"},"encoding":{"y":{"field":"h","type":"quantitative","title":null},"y2":{"field":"w"},"fill":{"datum":"Wasserstoff + E-Fuels","type":"nominal","legend":null}}},
{"data":{"name":"sc"},"mark":{"type":"area"},"encoding":{"y":{"field":"w","type":"quantitative","title":null},"y2":{"field":"b"},"fill":{"datum":"Wärmenetze","type":"nominal","legend":null}}},
{"data":{"name":"sc"},"mark":{"type":"area"},"encoding":{"y":{"field":"b","type":"quantitative","title":null},"y2":{"field":"z"},"fill":{"datum":"Biomasse","type":"nominal","legend":null}}},
{"data":{"name":"sc"},"mark":{"type":"area","fill":"#b8a0d1"},"encoding":{"y":{"field":"hx","type":"quantitative","title":null},"y2":{"field":"h"}}},
{"data":{"name":"sc"},"mark":{"type":"area","fill":"#f5ef7f","fillOpacity":0.5},"encoding":{"y":{"field":"ex","type":"quantitative","title":null},"y2":{"field":"el"}}},
{"data":{"name":"lc"},"mark":{"type":"line","strokeWidth":1.8,"strokeCap":"butt"},"encoding":{"y":{"field":"v","type":"quantitative","title":null},"stroke":{"field":"k","type":"nominal","scale":{"domain":["e","h"],"range":["#a99f00","#5e3b8f"]},"legend":null},"strokeDash":{"field":"s","type":"nominal","scale":{"domain":["T","E","W","F"],"range":[[1,0],[9,5],[2,6],[2,5,9,5]]},"legend":null},"detail":{"field":"m","type":"nominal"}}},
{"data":{"values":[{"t":2020,"t2":2045,"v":74.4}]},"mark":{"type":"rule","color":"#85859a","strokeWidth":2.2,"strokeDash":[2.2,9.3]},"encoding":{"x":{"field":"t","type":"quantitative"},"x2":{"field":"t2"},"y":{"field":"v","type":"quantitative","title":null}}}
]
},
{
"width":369,"height":352,
"title":{"text":"d\u00a0\u00a0\u00a0\u00a0\u00a0Endenergie-Anteile, Industrie [%]"},
"encoding":{"x":{"field":"t","type":"quantitative","title":null,"scale":{"domain":[2018.73,2046.27],"nice":false,"zero":false},"axis":{"values":[2020,2025,2030,2035,2040,2045],"format":"d"}}},
"layer":[
{"data":{"name":"sd"},"mark":{"type":"area"},"encoding":{"y":{"field":"u","type":"quantitative","title":null,"scale":{"domain":[-5,105],"nice":false,"zero":false},"axis":{"values":[0,25,50,75,100],"title":null}},"y2":{"field":"ex"},"fill":{"datum":"Elektrizität","type":"nominal","scale":{"domain":["Elektrizität","Fossile Brenn- und Grundstoffe","Wasserstoff + E-Fuels","Wärmenetze","Biomasse"],"range":["#f5ef7f","#e4e4e4","#8b5cbf","#d9583b","#2dad62"]},"legend":null}}},
{"data":{"name":"sd"},"mark":{"type":"area"},"encoding":{"y":{"field":"ex","type":"quantitative","title":null},"y2":{"field":"h"},"fill":{"datum":"Fossile Brenn- und Grundstoffe","type":"nominal","legend":null}}},
{"data":{"name":"sd"},"mark":{"type":"area"},"encoding":{"y":{"field":"h","type":"quantitative","title":null},"y2":{"field":"w"},"fill":{"datum":"Wasserstoff + E-Fuels","type":"nominal","legend":null}}},
{"data":{"name":"sd"},"mark":{"type":"area"},"encoding":{"y":{"field":"w","type":"quantitative","title":null},"y2":{"field":"b"},"fill":{"datum":"Wärmenetze","type":"nominal","legend":null}}},
{"data":{"name":"sd"},"mark":{"type":"area"},"encoding":{"y":{"field":"b","type":"quantitative","title":null},"y2":{"field":"z"},"fill":{"datum":"Biomasse","type":"nominal","legend":null}}},
{"data":{"name":"sd"},"mark":{"type":"area","fill":"#b8a0d1"},"encoding":{"y":{"field":"hx","type":"quantitative","title":null},"y2":{"field":"h"}}},
{"data":{"name":"sd"},"mark":{"type":"area","fill":"#f5ef7f","fillOpacity":0.5},"encoding":{"y":{"field":"ex","type":"quantitative","title":null},"y2":{"field":"el"}}},
{"data":{"name":"ld"},"mark":{"type":"line","strokeWidth":1.8,"strokeCap":"butt"},"encoding":{"y":{"field":"v","type":"quantitative","title":null},"stroke":{"field":"k","type":"nominal","scale":{"domain":["e","h"],"range":["#a99f00","#5e3b8f"]},"legend":null},"strokeDash":{"field":"s","type":"nominal","scale":{"domain":["T","E","W","F"],"range":[[1,0],[9,5],[2,6],[2,5,9,5]]},"legend":null},"detail":{"field":"m","type":"nominal"}}},
{"data":{"values":[{"t":2020,"t2":2045,"v":71.9}]},"mark":{"type":"rule","color":"#85859a","strokeWidth":2.2,"strokeDash":[2.2,9.3]},"encoding":{"x":{"field":"t","type":"quantitative"},"x2":{"field":"t2"},"y":{"field":"v","type":"quantitative","title":null}}}
]
}
],"spacing":15.5}
],
"resolve":{"scale":{"fill":"independent","strokeDash":"independent"}},
"config":{
"font":"Lato",
"view":{"stroke":null},
"axis":{"grid":false,"domainColor":"#000000","domainWidth":1.6,"tickColor":"#000000","tickWidth":1.2,"tickSize":5,"labelFontSize":15,"labelColor":"#222222","labelPadding":3,"labelFont":"Lato"},
"title":{"fontSize":20,"fontWeight":"bold","anchor":"start","frame":"bounds","color":"#000000","offset":9,"font":"Lato"},
"legend":{"titleFontSize":17,"titleFontWeight":"bold","titleColor":"#000000","labelFontSize":17,"labelColor":"#111111","padding":0,"titlePadding":8,"rowPadding":2.6,"labelLimit":400,"titleFont":"Lato","labelFont":"Lato"},
"text":{"font":"Lato"}
}
}
